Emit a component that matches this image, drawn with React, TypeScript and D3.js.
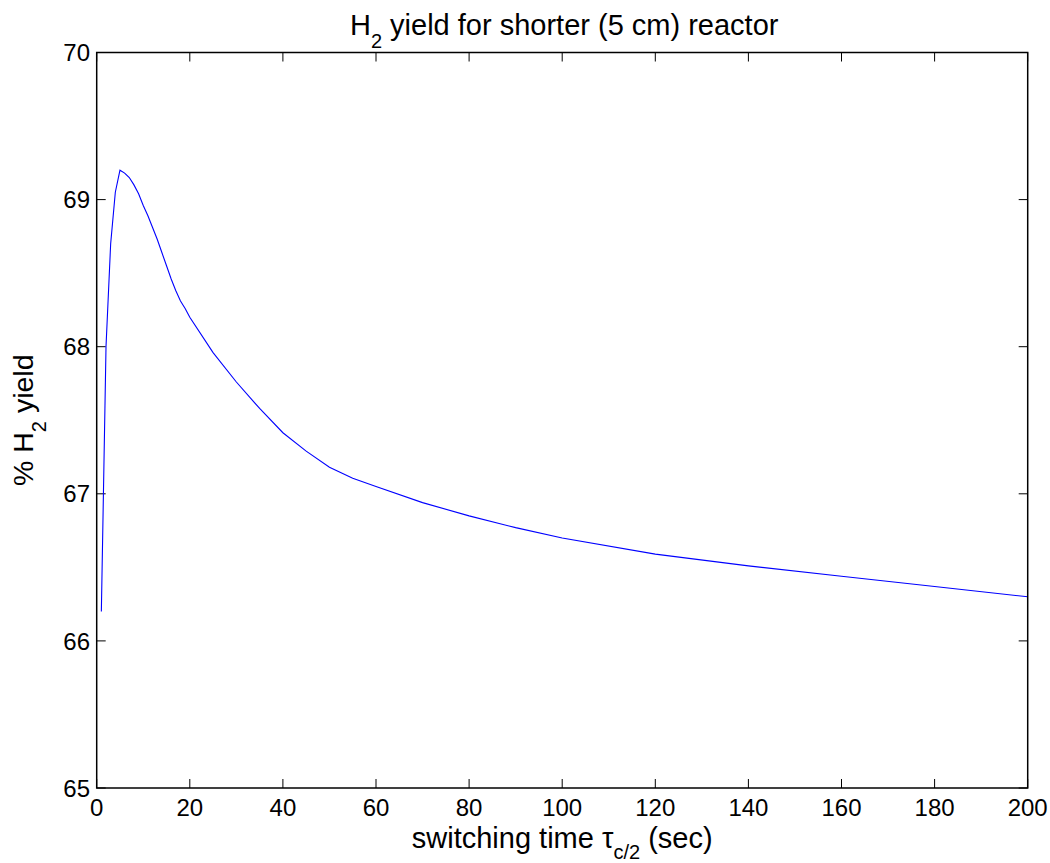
import React from "react";
import * as d3 from "d3";

const switchTime: number[] = [1, 2, 3, 4, 5, 6, 7, 8, 9, 10, 11, 12, 13, 14, 15, 16, 17, 18, 19, 20, 25, 30, 35, 40, 45, 50, 55, 60, 70, 80, 90, 100, 120, 140, 160, 180, 200];
const h2Yield: number[] = [66.2, 68.0, 68.7, 69.05, 69.2, 69.18, 69.15, 69.1, 69.04, 68.96, 68.89, 68.81, 68.73, 68.64, 68.55, 68.46, 68.38, 68.31, 68.26, 68.2, 67.96, 67.76, 67.58, 67.415, 67.29, 67.18, 67.105, 67.05, 66.94, 66.85, 66.77, 66.7, 66.59, 66.51, 66.44, 66.37, 66.3];
const xTicks: number[] = [0, 20, 40, 60, 80, 100, 120, 140, 160, 180, 200];
const yTicks: number[] = [65, 66, 67, 68, 69, 70];

const W = 1050;
const H = 863;
const L = 96.7, R = 1027.7, T = 52.5, B = 788;
const FONT = "'Liberation Sans', Arial, Helvetica, sans-serif";

export default function App() {
  const x = d3.scaleLinear().domain([0, 200]).range([L, R]);
  const y = d3.scaleLinear().domain([65, 70]).range([B, T]);
  const pts = switchTime.map((t, i) => [t, h2Yield[i]] as [number, number]);
  const line = d3.line<[number, number]>().x(d => x(d[0])).y(d => y(d[1]));
  const tl = 9;
  const cx = (L + R) / 2;
  const cy = (T + B) / 2;
  return (
    <svg width={W} height={H} style={{ position: "absolute", left: 0, top: 0, background: "#fff" }} fontFamily={FONT}>
      <rect x={0} y={0} width={W} height={H} fill="#fff" />
      {xTicks.map(t => (
        <g key={"xt" + t}>
          <line x1={x(t)} x2={x(t)} y1={B} y2={B - tl} stroke="#000" strokeWidth={1} />
          <line x1={x(t)} x2={x(t)} y1={T} y2={T + tl} stroke="#000" strokeWidth={1} />
          <text x={x(t)} y={816} fontSize={24} textAnchor="middle" fill="#000">{t}</text>
        </g>
      ))}
      {yTicks.map(t => (
        <g key={"yt" + t}>
          <line x1={L} x2={L + tl} y1={y(t)} y2={y(t)} stroke="#000" strokeWidth={1} />
          <line x1={R} x2={R - tl} y1={y(t)} y2={y(t)} stroke="#000" strokeWidth={1} />
          <text x={90} y={y(t) + 8.6} fontSize={24} textAnchor="end" fill="#000">{t}</text>
        </g>
      ))}
      <path d={line(pts) || ""} fill="none" stroke="#0000ff" strokeWidth={1.1} />
      <rect x={L} y={T} width={R - L} height={B - T} fill="none" stroke="#000" strokeWidth={1.5} />
      <text x={cx + 2} y={35} fontSize={29} textAnchor="middle" fill="#000">
        H<tspan dy={13} fontSize={20}>2</tspan><tspan dy={-13}>{" yield for shorter (5 cm) reactor"}</tspan>
      </text>
      <text x={cx} y={848} fontSize={29} textAnchor="middle" fill="#000">
        {"switching time \u03c4"}<tspan dy={11} fontSize={20}>c/2</tspan><tspan dy={-11}>{" (sec)"}</tspan>
      </text>
      <text transform={`translate(33,${cy}) rotate(-90)`} fontSize={28.5} textAnchor="middle" fill="#000">
        {"% H"}<tspan dy={13} fontSize={20}>2</tspan><tspan dy={-13}>{" yield"}</tspan>
      </text>
    </svg>
  );
}
